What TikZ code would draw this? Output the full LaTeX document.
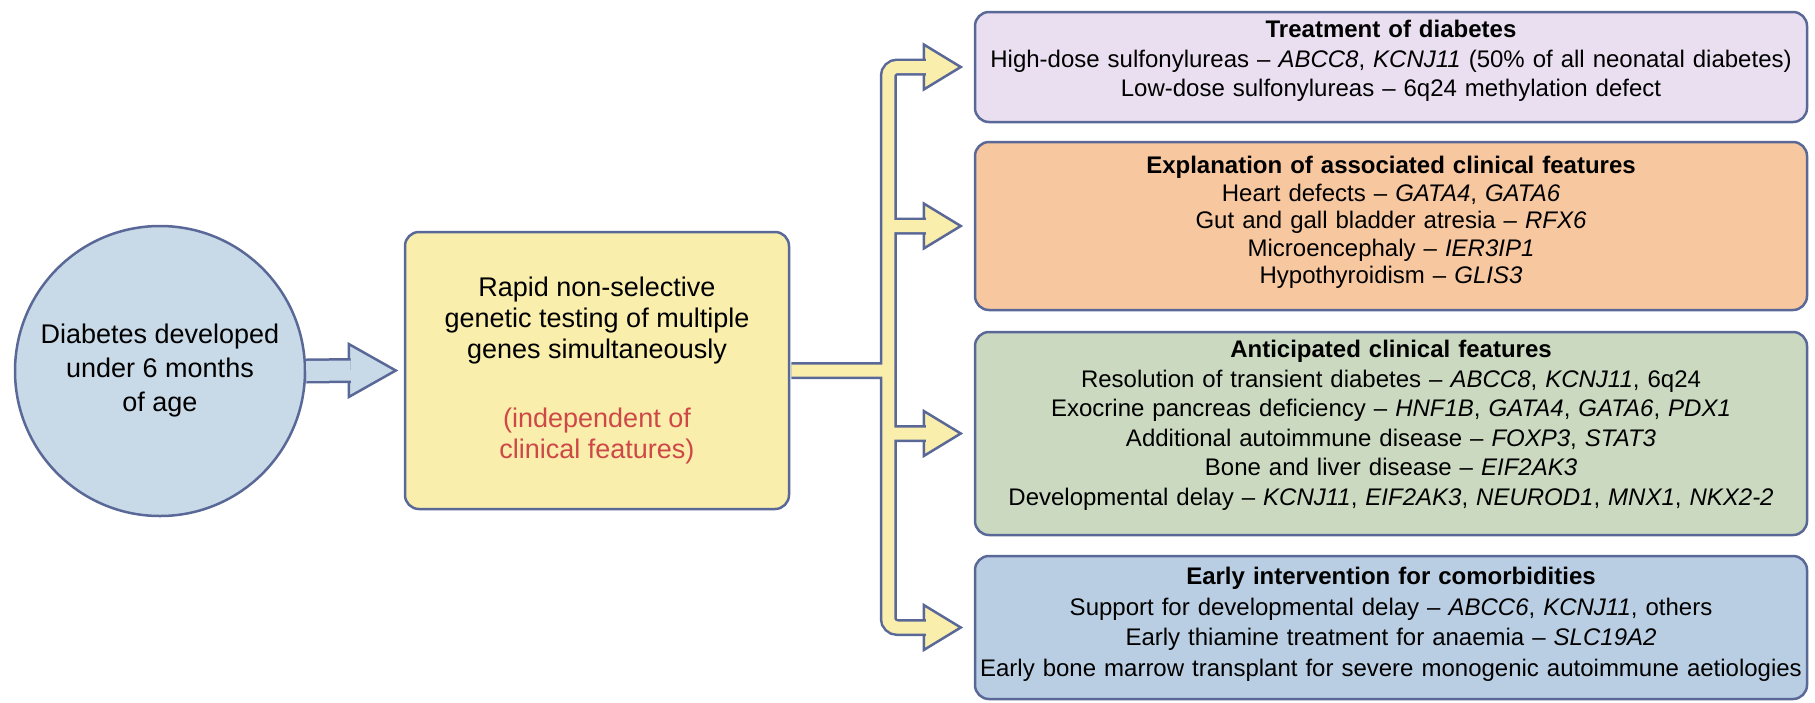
\documentclass[tikz,border=0pt]{standalone}
\usepackage{fontspec}
\setmainfont{Liberation Sans}
\usetikzlibrary{positioning,calc}
\definecolor{edge}{RGB}{90,104,152}
\definecolor{circblue}{RGB}{200,218,232}
\definecolor{testyellow}{RGB}{249,238,172}
\definecolor{treatpurple}{RGB}{233,223,240}
\definecolor{explorange}{RGB}{247,199,160}
\definecolor{anticgreen}{RGB}{202,217,192}
\definecolor{earlyblue}{RGB}{186,206,227}
\definecolor{indepred}{RGB}{206,72,72}
% extra depth below the last line, lifts the text a little
\newcommand{\lowpad}[1]{\rule[-#1pt]{0pt}{0pt}}

\begin{document}
\begin{tikzpicture}[x=1pt, y=-1pt,
    box/.style={draw=edge, line width=2.5pt, rounded corners=14, align=center, inner sep=2pt},
    sidebox/.style={box, minimum width=832, text width=826, font=\fontsize{24}{29.5}\selectfont},
    fatline/.style={draw=edge, line width=2.5pt, double distance=12pt},
    yhead/.style={draw=edge, fill=testyellow, line width=2.5pt, line join=miter}]
        \useasboundingbox (0,0) rectangle (1815,702);

        % Onset
        \node[circle, draw=edge, line width=2.5pt, fill=circblue, minimum size=290, align=center, font=\fontsize{27}{34}\selectfont] (onset) at (160,371) {Diabetes developed\\under 6 months\\of age};

        % Testing
        \node[box, fill=testyellow, minimum width=384, minimum height=277, font=\fontsize{27}{31}\selectfont] (test) at (597,370.5) {Rapid non-selective\\genetic testing of multiple\\genes simultaneously\\[38pt]\textcolor{indepred}{(independent of}\\\textcolor{indepred}{clinical features)}};

        % Outcomes
        \node[sidebox, fill=treatpurple, minimum height=110] (treat) at (1391,67) {\textbf{Treatment of diabetes}\\High-dose sulfonylureas – \textit{ABCC8}, \textit{KCNJ11} (50\% of all neonatal diabetes)\\Low-dose sulfonylureas – 6q24 methylation defect\lowpad{17}};
        \node[sidebox, fill=explorange, minimum height=168, font=\fontsize{24}{27.5}\selectfont] (explain) at (1391,226) {\textbf{Explanation of associated clinical features}\\Heart defects – \textit{GATA4}, \textit{GATA6}\\Gut and gall bladder atresia – \textit{RFX6}\\Microencephaly – \textit{IER3IP1}\\Hypothyroidism – \textit{GLIS3}\lowpad{12}};
        \node[sidebox, fill=anticgreen, minimum height=203] (antic) at (1391,433.5) {\textbf{Anticipated clinical features}\\Resolution of transient diabetes – \textit{ABCC8}, \textit{KCNJ11}, 6q24\\Exocrine pancreas deficiency – \textit{HNF1B}, \textit{GATA4}, \textit{GATA6}, \textit{PDX1}\\Additional autoimmune disease – \textit{FOXP3}, \textit{STAT3}\\Bone and liver disease – \textit{EIF2AK3}\\Developmental delay – \textit{KCNJ11}, \textit{EIF2AK3}, \textit{NEUROD1}, \textit{MNX1}, \textit{NKX2-2}\lowpad{21}};
        \node[sidebox, fill=earlyblue, minimum height=143, font=\fontsize{24}{30.5}\selectfont] (early) at (1391,627.5) {\textbf{Early intervention for comorbidities}\\Support for developmental delay – \textit{ABCC6}, \textit{KCNJ11}, others\\Early thiamine treatment for anaemia – \textit{SLC19A2}\\Early bone marrow transplant for severe monogenic autoimmune aetiologies\lowpad{11}};

        % Onset to testing
        \draw[yhead, fill=circblue] ([xshift=-55,yshift=26.5]test.west) -- ([xshift=-8]test.west) -- ([xshift=-55,yshift=-26.5]test.west) -- cycle;
        \draw[fatline, double=circblue, double distance=20pt] (onset.east) -- ([xshift=-53]test.west);

        % Testing to outcomes
        \coordinate (trunk) at ([xshift=98]test.east);
        \foreach \bx in {treat,explain,antic,early}
            \draw[yhead] ([xshift=-50,yshift=22.5]\bx.west) -- ([xshift=-13]\bx.west) -- ([xshift=-50,yshift=-22.5]\bx.west) -- cycle;
        \draw[fatline, double=testyellow, rounded corners=9]
            ([xshift=-48]treat.west) -| (trunk |- early.west) -- ([xshift=-48]early.west)
            ([xshift=1]test.east) -- (trunk)
            (trunk |- explain.west) -- ([xshift=-48]explain.west)
            (trunk |- antic.west) -- ([xshift=-48]antic.west);
\end{tikzpicture}
\end{document}
